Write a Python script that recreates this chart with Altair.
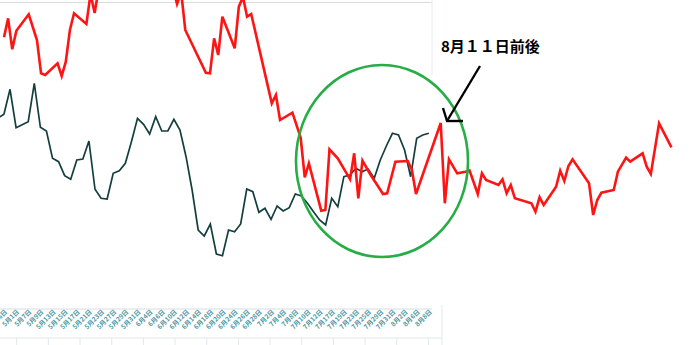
import altair as alt
import pandas as pd

W, H = 690, 345
JP = "Noto Sans CJK JP"

# ---- dark series (trading days, index -1..70) ----
dark_dates = [
    "4月25日", "4月26日", "4月30日", "5月1日", "5月2日", "5月7日", "5月8日", "5月9日",
    "5月10日", "5月13日", "5月14日", "5月15日", "5月16日", "5月17日", "5月20日", "5月21日",
    "5月22日", "5月23日", "5月24日", "5月27日", "5月28日", "5月29日", "5月30日", "5月31日",
    "6月3日", "6月4日", "6月5日", "6月6日", "6月7日", "6月10日", "6月11日", "6月12日",
    "6月13日", "6月14日", "6月17日", "6月18日", "6月19日", "6月20日", "6月21日", "6月24日",
    "6月25日", "6月26日", "6月27日", "6月28日", "7月1日", "7月2日", "7月3日", "7月4日",
    "7月5日", "7月8日", "7月9日", "7月10日", "7月11日", "7月12日", "7月16日", "7月17日",
    "7月18日", "7月19日", "7月22日", "7月23日", "7月24日", "7月25日", "7月26日", "7月29日",
    "7月30日", "7月31日", "8月1日", "8月2日", "8月5日", "8月6日", "8月7日", "8月8日",
]
dark_values = [
    227, 230.7, 255.7, 217.3, 220.3, 223.3, 261.7, 217.7, 214, 186.7, 183.3, 169.3,
    165.7, 185, 186, 204, 155.7, 146.7, 146, 171.7, 174.3, 181.7, 203.3, 226.7,
    220.7, 211, 228.3, 214, 214, 225.7, 215, 188.3, 155, 115, 109, 121,
    91, 89.3, 115, 113.3, 121, 156, 153.3, 132.7, 136.7, 125.7, 139, 134,
    137.3, 151, 149, 141.7, 133.3, 125, 120, 146.7, 138.3, 168.3, 170, 176.7,
    173.3, 176, 166.7, 185, 199, 211.7, 210, 195, 168.3, 206.7, 210, 211.7,
]
dark_index = list(range(-1, len(dark_values) - 1))

# ---- red series (comparison period, own day index) ----
red_index = [
    0, 1, 2, 3, 6, 8, 9, 10, 13, 14, 15, 16, 17, 20, 21, 22, 23, 26, 30, 35, 39, 41,
    42, 43, 44, 49, 50, 51, 52, 53, 56, 57, 58, 59, 60, 65, 66, 67, 70, 72, 73, 74,
    77, 78, 79, 81, 84, 85, 86, 87, 89, 92, 93, 95, 98, 99, 100, 106, 107, 108, 110,
    112, 113, 115, 116, 117, 120, 121, 122, 123, 124, 128, 129, 130, 131, 134, 135,
    136, 137, 138, 142, 143, 144, 145, 148, 149, 151, 152, 155, 156, 157, 159, 162,
]
red_values = [
    307.7, 326.7, 295.7, 314.3, 330.7, 305, 271.7, 270, 281.7, 269, 283.3, 315, 331.7,
    321, 351, 332, 357, 375, 365, 390, 370, 357,
    341, 353, 315, 272.3, 271.7, 306.7, 290, 328.3, 296.7, 338.3, 348, 328.3, 331,
    241.7, 250, 225, 232.3, 207.5, 167.7, 181.7,
    134.3, 135, 195.7, 186.7, 165.7, 191.7, 146.7, 184.3, 170, 151, 151.7, 183.3, 184,
    175, 151, 222, 141.7, 185.7, 171.7,
    173.3, 174.5, 151, 171.7, 165, 160, 165.7, 151.7, 160, 146.7, 141.7, 133.3, 147.7,
    140, 158.3, 174.3,
    164, 179, 185.7, 161.7, 130, 145, 152.3, 155, 173.3, 187.3, 183.3, 191.7, 178.3,
    171, 221.7, 197.7,
]

tick_labels = dark_dates[1::2]
tick_index = dark_index[1::2]

annotation_text = "8月１１日前後"

dark_df = pd.DataFrame({"i": dark_index, "v": dark_values})
red_df = pd.DataFrame({"k": red_index, "v": red_values})
lab_df = pd.DataFrame({"i": tick_index, "label": tick_labels})

# scales
dark_x = alt.Scale(domain=[-3.95 / 6.07, (W - 3.95) / 6.07], nice=False, zero=False)
red_x = alt.Scale(domain=[-4 / 4.12, (W - 4) / 4.12], nice=False, zero=False)
y_sc = alt.Scale(domain=[0, H], nice=False, zero=False)

red_line = alt.Chart(red_df).mark_line(
    color="#ff1414", strokeWidth=2.6, clip=True
).encode(
    x=alt.X("k:Q", scale=red_x, axis=None),
    y=alt.Y("v:Q", scale=y_sc, axis=None),
)

dark_line = alt.Chart(dark_df).mark_line(
    color="#143f3e", strokeWidth=1.7, clip=True
).encode(
    x=alt.X("i:Q", scale=dark_x, axis=None),
    y=alt.Y("v:Q", scale=y_sc, axis=None),
)

labels = alt.Chart(lab_df).mark_text(
    angle=315, align="right", baseline="middle", fontSize=6.5, font=JP,
    fontWeight="bold", color="#4f98a1", dx=3,
).encode(
    x=alt.X("i:Q", scale=dark_x, axis=None),
    y=alt.value(313),
    text="label:N",
)

one = pd.DataFrame({"a": [0]})
frame_col = "#d6dee2"

top_line = alt.Chart(one).mark_rule(color=frame_col, strokeWidth=1.2).encode(
    x=alt.value(0), x2=alt.value(432), y=alt.value(2.5))
right_line = alt.Chart(one).mark_rule(color="#e6ebee", strokeWidth=1).encode(
    x=alt.value(432), y=alt.value(0), y2=alt.value(75))
axis_line = alt.Chart(one).mark_rule(color=frame_col, strokeWidth=1.2).encode(
    x=alt.value(0), x2=alt.value(432), y=alt.value(309))
table_line = alt.Chart(one).mark_rule(color="#e3e8eb", strokeWidth=1).encode(
    x=alt.value(0), x2=alt.value(442), y=alt.value(338))
table_edge = alt.Chart(one).mark_rule(color="#e3e8eb", strokeWidth=1).encode(
    x=alt.value(442), y=alt.value(305), y2=alt.value(345))
grid_df = pd.DataFrame({"px": [16.7 + 31.67 * j for j in range(14)]})
table_ticks = alt.Chart(grid_df).mark_rule(color="#e3e8eb", strokeWidth=1).encode(
    x=alt.X("px:Q", scale=None), y=alt.value(338), y2=alt.value(345))

ellipse_path = ("M -0.896 0 A 0.896 1 0 1 0 0.896 0 "
                "A 0.896 1 0 1 0 -0.896 0 Z")
circle = alt.Chart(one).mark_point(
    shape=ellipse_path, size=36864, filled=False, stroke="#27ad45",
    strokeWidth=2.6, opacity=1,
).encode(x=alt.value(382), y=alt.value(161))

arrow_shaft = alt.Chart(one).mark_rule(color="black", strokeWidth=2.4).encode(
    x=alt.value(480), y=alt.value(66), x2=alt.value(447), y2=alt.value(121))
arrow_l = alt.Chart(one).mark_rule(color="black", strokeWidth=2.4).encode(
    x=alt.value(447), y=alt.value(121), x2=alt.value(443), y2=alt.value(108))
arrow_r = alt.Chart(one).mark_rule(color="black", strokeWidth=2.4).encode(
    x=alt.value(446), y=alt.value(121), x2=alt.value(463), y2=alt.value(121))

note = alt.Chart(pd.DataFrame({"t": [annotation_text]})).mark_text(
    align="left", baseline="middle", fontSize=15, fontWeight="bold", font=JP,
    color="black",
).encode(x=alt.value(441), y=alt.value(47), text="t:N")

chart = alt.layer(
    top_line, right_line, axis_line, table_line, table_edge, table_ticks,
    labels, dark_line, red_line, circle, arrow_shaft, arrow_l, arrow_r, note,
).resolve_scale(x="independent").properties(
    width=W, height=H, padding=0, autosize=alt.AutoSizeParams(type="none"),
    background="white",
).configure_view(stroke=None)

chart.save("out.html", embed_options={"renderer": "svg", "actions": False})
